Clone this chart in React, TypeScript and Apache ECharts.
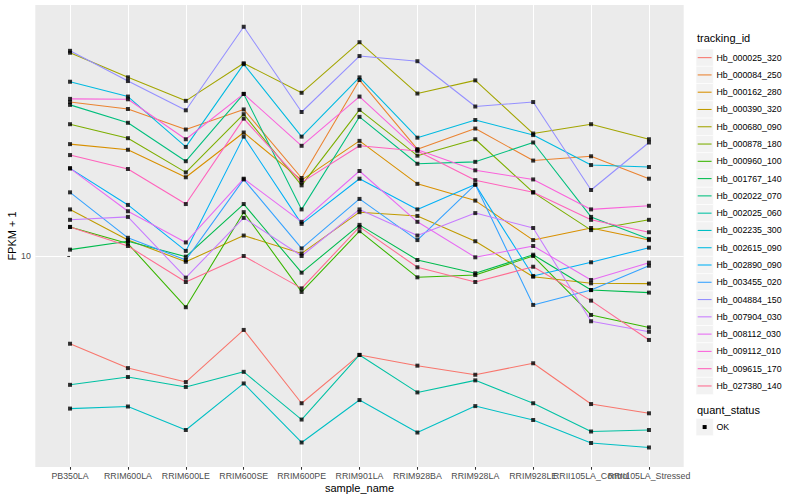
import { useEffect, useRef } from 'react';
import * as echarts from 'echarts';

const CATEGORIES = ['PB350LA', 'RRIM600LA', 'RRIM600LE', 'RRIM600SE', 'RRIM600PE', 'RRIM901LA', 'RRIM928BA', 'RRIM928LA', 'RRIM928LE', 'RRII105LA_Control', 'RRII105LA_Stressed'];

const TRACKING_IDS = ['Hb_000025_320', 'Hb_000084_250', 'Hb_000162_280', 'Hb_000390_320', 'Hb_000680_090', 'Hb_000878_180', 'Hb_000960_100', 'Hb_001767_140', 'Hb_002022_070', 'Hb_002025_060', 'Hb_002235_300', 'Hb_002615_090', 'Hb_002890_090', 'Hb_003455_020', 'Hb_004884_150', 'Hb_007904_030', 'Hb_008112_030', 'Hb_009112_010', 'Hb_009615_170', 'Hb_027380_140'];

const COLORS = ['#F8766D', '#EA8331', '#D89000', '#C09B00', '#A3A500', '#7CAE00', '#39B600', '#00BB4E', '#00BF7D', '#00C1A3', '#00BFC4', '#00BAE0', '#00B0F6', '#35A2FF', '#9590FF', '#C77CFF', '#E76BF3', '#FA62DB', '#FF62BC', '#FF6C91'];

const Hb_000025_320 = [5.10, 4.23, 3.80, 5.67, 3.23, 4.68, 4.31, 4.02, 4.39, 3.21, 2.99];
const Hb_000084_250 = [32.6, 30.9, 26.4, 30.8, 18.2, 38.6, 22.7, 26.6, 20.8, 21.5, 18.1];
const Hb_000162_280 = [23.6, 22.6, 18.3, 25.8, 17.9, 24.2, 17.4, 15.3, 11.3, 12.4, 11.3];
const Hb_000390_320 = [14.3, 11.3, 9.57, 11.7, 10.2, 14.0, 13.6, 11.2, 8.53, 8.11, 8.09];
const Hb_000680_090 = [47.6, 39.4, 32.9, 43.9, 35.0, 51.6, 34.8, 38.5, 25.6, 27.5, 24.5];
const Hb_000878_180 = [27.5, 24.7, 19.0, 29.7, 17.2, 30.7, 21.6, 24.5, 16.3, 12.2, 13.2];
const Hb_000960_100 = [12.5, 11.0, 6.75, 14.0, 7.59, 12.1, 8.49, 8.64, 10.0, 6.36, 5.78];
const Hb_001767_140 = [10.5, 11.2, 9.95, 14.9, 8.80, 12.7, 9.70, 8.76, 10.1, 7.70, 7.55];
const Hb_002022_070 = [31.9, 27.8, 20.7, 34.7, 14.3, 29.1, 20.3, 20.6, 23.9, 13.5, 11.4];
const Hb_002025_060 = [3.72, 3.95, 3.66, 4.11, 2.85, 4.68, 3.51, 3.85, 3.23, 2.60, 2.63];
const Hb_002235_300 = [3.10, 3.15, 2.63, 3.76, 2.39, 3.31, 2.58, 3.16, 2.84, 2.38, 2.30];
const Hb_002615_090 = [38.1, 34.0, 23.1, 43.6, 25.0, 39.4, 24.8, 28.4, 25.3, 20.1, 19.8];
const Hb_002890_090 = [19.6, 14.8, 10.4, 25.0, 12.8, 18.1, 14.3, 17.3, 8.58, 9.53, 10.66];
const Hb_003455_020 = [16.3, 11.5, 9.70, 18.0, 10.6, 15.5, 11.3, 17.3, 6.87, 7.70, 9.28];
const Hb_004884_150 = [48.3, 38.3, 30.6, 58.1, 30.2, 46.4, 44.6, 31.5, 32.6, 16.6, 23.9];
const Hb_007904_030 = [13.2, 13.5, 8.47, 13.4, 10.0, 14.3, 11.7, 13.9, 12.4, 6.06, 5.59];
const Hb_008112_030 = [19.6, 14.1, 11.1, 18.1, 13.0, 19.2, 13.0, 9.90, 10.8, 8.32, 9.50];
const Hb_009112_010 = [33.4, 33.3, 24.5, 34.7, 23.3, 34.0, 22.6, 19.3, 18.0, 14.3, 14.7];
const Hb_009615_170 = [21.7, 19.5, 14.9, 28.7, 17.6, 23.3, 22.4, 17.9, 16.3, 13.2, 12.0];
const Hb_027380_140 = [12.5, 10.8, 8.19, 10.0, 7.80, 12.5, 9.17, 8.19, 9.21, 7.10, 5.25];

const SERIES_VALUES = [Hb_000025_320, Hb_000084_250, Hb_000162_280, Hb_000390_320, Hb_000680_090, Hb_000878_180, Hb_000960_100, Hb_001767_140, Hb_002022_070, Hb_002025_060, Hb_002235_300, Hb_002615_090, Hb_002890_090, Hb_003455_020, Hb_004884_150, Hb_007904_030, Hb_008112_030, Hb_009112_010, Hb_009615_170, Hb_027380_140];

const Y_TICKS = [10];
const Y_MIN = 1.98;
const Y_MAX = 68.66;
const QUANT_STATUS = ['OK'];

const FONT = '"Liberation Sans", Arial, Helvetica, sans-serif';

export default function App() {
  const ref = useRef<HTMLDivElement>(null);

  useEffect(() => {
    document.body.style.margin = '0';
    const chart = echarts.init(ref.current!, null, { renderer: 'svg' });

    const catIdx = CATEGORIES.map((_, i) => i);
    // Labels that overlap their right neighbour are placed on a second, label-only axis
    const overlapIdx = [CATEGORIES.length - 2];
    const mainLabelIdx = catIdx.filter((i) => !overlapIdx.includes(i));

    const lineSeries = SERIES_VALUES.map((vals, i) => ({
      type: 'line',
      name: TRACKING_IDS[i],
      xAxisIndex: 0,
      data: vals.map((v, j) => [j, v]),
      symbol: 'none',
      showSymbol: false,
      lineStyle: { color: COLORS[i], width: 1.07 },
      itemStyle: { color: COLORS[i] },
      silent: true,
      z: 2,
    }));

    const pointSeries = {
      type: 'scatter',
      name: QUANT_STATUS[0],
      xAxisIndex: 0,
      data: SERIES_VALUES.flatMap((vals) => vals.map((v, j) => [j, v])),
      symbol: 'rect',
      symbolSize: 4,
      itemStyle: { color: '#000000' },
      silent: true,
      z: 3,
    };

    const KEY = 17.28;
    const keyX = 696;
    const firstTop = 49;
    const legendEls: any[] = [];
    legendEls.push({
      type: 'text',
      x: 697,
      y: 38,
      style: { text: 'tracking_id', fill: '#000', font: `11px ${FONT}`, verticalAlign: 'middle', textVerticalAlign: 'middle' },
    });
    TRACKING_IDS.forEach((id, i) => {
      const top = firstTop + i * KEY;
      const cy = top + KEY / 2;
      legendEls.push({
        type: 'rect',
        shape: { x: keyX, y: top, width: KEY, height: KEY },
        style: { fill: '#F2F2F2', stroke: '#FFFFFF', lineWidth: 0.6 },
      });
      legendEls.push({
        type: 'line',
        shape: { x1: keyX + 1.7, y1: cy, x2: keyX + KEY - 1.7, y2: cy },
        style: { stroke: COLORS[i], lineWidth: 1.07 },
      });
      legendEls.push({
        type: 'text',
        x: 716.5,
        y: cy,
        style: { text: id, fill: '#000', font: `8.8px ${FONT}`, verticalAlign: 'middle', textVerticalAlign: 'middle' },
      });
    });
    legendEls.push({
      type: 'text',
      x: 697,
      y: 410,
      style: { text: 'quant_status', fill: '#000', font: `11px ${FONT}`, verticalAlign: 'middle', textVerticalAlign: 'middle' },
    });
    const okTop = 418.4;
    legendEls.push({
      type: 'rect',
      shape: { x: keyX, y: okTop, width: KEY, height: KEY },
      style: { fill: '#F2F2F2', stroke: '#FFFFFF', lineWidth: 0.6 },
    });
    legendEls.push({
      type: 'rect',
      shape: { x: keyX + KEY / 2 - 2, y: okTop + KEY / 2 - 2, width: 4, height: 4 },
      style: { fill: '#000' },
    });
    legendEls.push({
      type: 'text',
      x: 716.5,
      y: okTop + KEY / 2,
      style: { text: QUANT_STATUS[0], fill: '#000', font: `8.8px ${FONT}`, verticalAlign: 'middle', textVerticalAlign: 'middle' },
    });

    const labelStyle = {
      formatter: (v: number) => CATEGORIES[Math.round(v)] ?? '',
      color: '#4D4D4D',
      fontSize: 8.8,
      fontFamily: FONT,
      margin: 4.5,
      hideOverlap: false,
    };

    chart.setOption({
      animation: false,
      backgroundColor: '#FFFFFF',
      textStyle: { fontFamily: FONT },
      grid: {
        left: 35.3,
        right: 116.3,
        top: 5,
        bottom: 33,
        show: true,
        backgroundColor: '#EBEBEB',
        borderWidth: 0,
        containLabel: false,
        outerBoundsMode: 'none',
      },
      xAxis: [
        {
          type: 'value',
          min: -0.6,
          max: 10.6,
          position: 'bottom',
          axisLine: { show: false },
          axisTick: { show: true, length: 2.74, lineStyle: { color: '#333333', width: 1.07 }, customValues: catIdx },
          axisLabel: { ...labelStyle, customValues: mainLabelIdx },
          splitLine: { show: true, lineStyle: { color: '#FFFFFF', width: 1.07 } },
          name: 'sample_name',
          nameLocation: 'middle',
          nameGap: 15,
          nameMoveOverlap: false,
          nameTextStyle: { color: '#000', fontSize: 11, fontFamily: FONT },
        },
        {
          type: 'value',
          min: -0.6,
          max: 10.6,
          position: 'bottom',
          offset: 0,
          axisLine: { show: false },
          axisTick: { show: false },
          axisLabel: { ...labelStyle, customValues: overlapIdx },
          splitLine: { show: false },
        },
      ],
      yAxis: {
        type: 'log',
        logBase: 10,
        min: Y_MIN,
        max: Y_MAX,
        axisLine: { show: false },
        axisTick: { show: true, length: 2.74, lineStyle: { color: '#333333', width: 1.07 }, customValues: Y_TICKS },
        axisLabel: {
          customValues: Y_TICKS,
          formatter: (v: number) => (Math.abs(v - 10) < 0.01 ? '10' : ''),
          color: '#4D4D4D',
          fontSize: 8.8,
          fontFamily: FONT,
          margin: 4.5,
        },
        splitLine: { show: true, lineStyle: { color: '#FFFFFF', width: 1.07 } },
        name: 'FPKM + 1',
        nameLocation: 'middle',
        nameGap: 17.5,
        nameRotate: 90,
        nameMoveOverlap: false,
        nameTextStyle: { color: '#000', fontSize: 11, fontFamily: FONT },
      },
      graphic: { elements: legendEls },
      series: [...lineSeries, pointSeries],
    });

    return () => chart.dispose();
  }, []);

  return <div ref={ref} style={{ width: 800, height: 500 }} />;
}
